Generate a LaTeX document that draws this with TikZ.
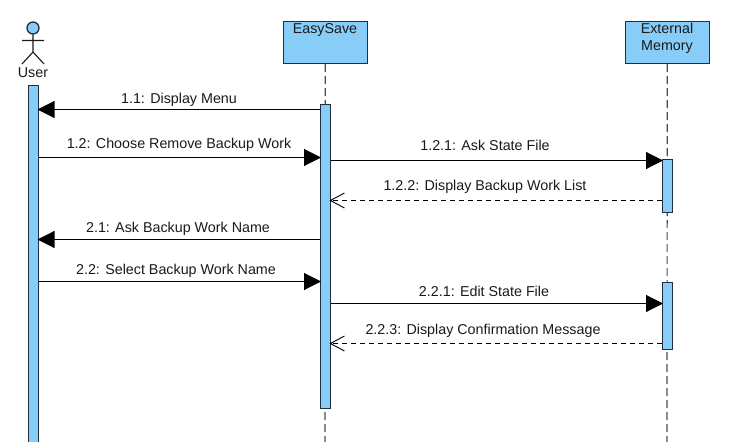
\documentclass[tikz,border=0pt]{standalone}
\usepackage{fontspec}
\setmainfont{Liberation Sans}
\usetikzlibrary{arrows.meta}
\definecolor{skyfill}{HTML}{87CDF8}
\definecolor{edgedark}{HTML}{1F2F3F}
\definecolor{inkdark}{HTML}{1A1A1A}
\tikzset{
  lbl/.style={font=\fontsize{14.3}{17}\selectfont,text=inkdark,inner sep=0pt},
  obj/.style={draw=edgedark,line width=1.5pt,fill=skyfill,minimum width=84pt,minimum height=42pt,inner sep=0pt,anchor=north west},
  bar/.style={draw=edgedark,line width=1.5pt,fill=skyfill,minimum width=10pt,inner sep=0pt,anchor=north west},
  life/.style={draw=black!70,line width=1.2pt,dash pattern=on 8pt off 4pt},
  syncmsg/.style={draw=black,line width=1.1pt,shorten >=-1.5pt,-{Triangle[length=17pt,width=17pt,fill=black]}},
  retmsg/.style={draw=black,line width=1.1pt,dash pattern=on 5pt off 4pt,shorten >=-1.5pt,-{Straight Barb[length=14pt,width=15pt,line width=0.9pt]}},
  figure/.style={draw=inkdark,line width=1.1pt}
}
\begin{document}
\begin{tikzpicture}[x=1pt,y=-1pt]
\useasboundingbox (0,0) rectangle (745,442);
\fill[white] (0,0) rectangle (745,442);
% heads
\node[obj] (easy) at (282.5,20.5) {};
\node[lbl,anchor=center] (easyt) at (325,30) {EasySave};
\node[obj] (ext) at (624.5,20.5) {};
\node[lbl,anchor=center,align=center] (extt) at (667,38.5) {External\\Memory};
% lifelines
\coordinate (easyEnd) at (325,442);
\coordinate (extEnd) at (667,442);
\draw[life] (easy.south) -- (easyEnd);
\draw[life] (ext.south) -- (extEnd);
% activation bars
\node[bar,minimum height=360pt] (ub) at (27.5,84.5) {};
\node[bar,minimum height=304pt] (eb) at (319.5,103.5) {};
\node[bar,minimum height=53pt] (mb1) at (661.5,158.5) {};
\node[bar,minimum height=67pt] (mb2) at (661.5,281.5) {};
% actor
\node[circle,draw=edgedark,line width=1.3pt,fill=skyfill,minimum size=12pt,inner sep=0pt] (head) at (33,28) {};
\coordinate (hip) at (33,52);
\coordinate (armL) at (22,40.5);
\coordinate (armR) at (44,40.5);
\coordinate (legL) at (22,64);
\coordinate (legR) at (44,64);
\draw[figure] (head.south) -- (hip) (armL) -- (armR) (legL) -- (hip) -- (legR);
\node[lbl] (user) at (33,72.5) {User};
% message rows
\coordinate (r1) at (0,109.5);
\coordinate (r2) at (0,157.5);
\coordinate (r3) at (0,160.5);
\coordinate (r4) at (0,200.5);
\coordinate (r5) at (0,239.5);
\coordinate (r6) at (0,281.5);
\coordinate (r7) at (0,303.5);
\coordinate (r8) at (0,343.5);
\draw[syncmsg] (eb.west |- r1) -- (ub.east |- r1);
\draw[syncmsg] (ub.east |- r2) -- (eb.west |- r2);
\draw[syncmsg] (eb.east |- r3) -- (mb1.west |- r3);
\draw[retmsg] (mb1.west |- r4) -- (eb.east |- r4);
\draw[syncmsg] (eb.west |- r5) -- (ub.east |- r5);
\draw[syncmsg] (ub.east |- r6) -- (eb.west |- r6);
\draw[syncmsg] (eb.east |- r7) -- (mb2.west |- r7);
\draw[retmsg] (mb2.west |- r8) -- (eb.east |- r8);
% labels
\node[lbl] (l1) at (179,100) {1.1: Display Menu};
\node[lbl] (l2) at (179,145) {1.2: Choose Remove Backup Work};
\node[lbl] (l3) at (485,145) {1.2.1: Ask State File};
\node[lbl] (l4) at (485,187) {1.2.2: Display Backup Work List};
\node[lbl] (l5) at (178,229) {2.1: Ask Backup Work Name};
\node[lbl] (l6) at (176,270.5) {2.2: Select Backup Work Name};
\node[lbl] (l7) at (484,291) {2.2.1: Edit State File};
\node[lbl] (l8) at (483,331) {2.2.3: Display Confirmation Message};
\end{tikzpicture}
\end{document}
